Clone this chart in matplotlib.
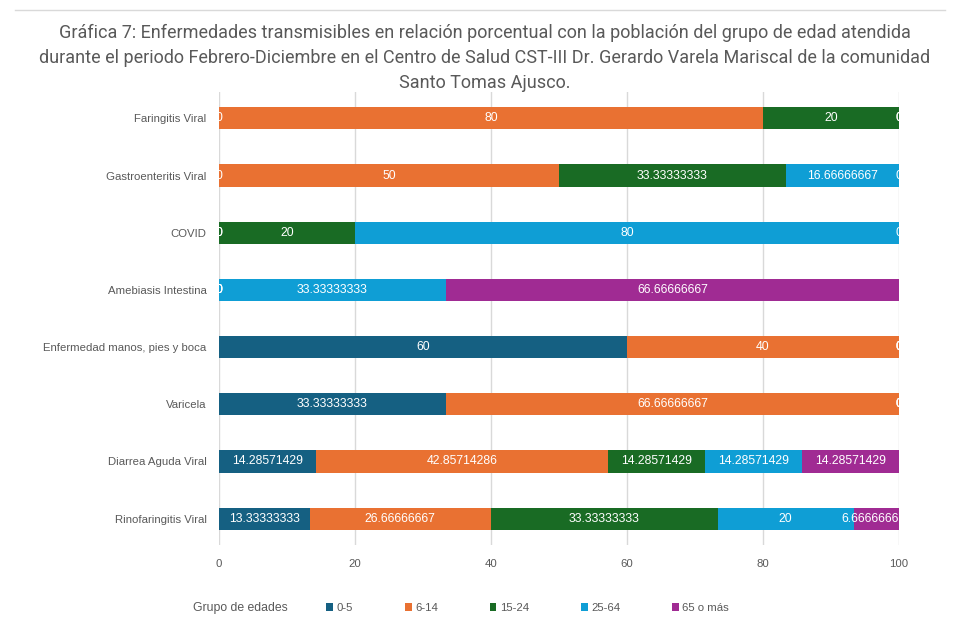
import numpy as np
import matplotlib.pyplot as plt
from matplotlib.patches import Patch
from matplotlib.lines import Line2D

# Datos (porcentaje por grupo de edad)
categorias = [
    "Faringitis Viral", "Gastroenteritis Viral", "COVID", "Amebiasis Intestina",
    "Enfermedad manos, pies y boca", "Varicela", "Diarrea Aguda Viral",
    "Rinofaringitis Viral",
]
grupos = ["0-5", "6-14", "15-24", "25-64", "65 o más"]
g_0_5 = [0, 0, 0, 0, 60, 33.33333333, 14.28571429, 13.33333333]
g_6_14 = [80, 50, 0, 0, 40, 66.66666667, 42.85714286, 26.66666667]
g_15_24 = [20, 33.33333333, 20, 0, 0, 0, 14.28571429, 33.33333333]
g_25_64 = [0, 16.66666667, 80, 33.33333333, 0, 0, 14.28571429, 20]
g_65 = [0, 0, 0, 66.66666667, 0, 0, 14.28571429, 6.666666667]
colores = ["#156082", "#E97132", "#196B24", "#0F9ED5", "#A02B93"]

series = [g_0_5, g_6_14, g_15_24, g_25_64, g_65]
gris = "#595959"

plt.rcParams['font.family'] = ['Liberation Sans', 'DejaVu Sans']

fig = plt.figure(figsize=(9.58, 6.42), dpi=100)
ax = fig.add_axes([219 / 958, 1 - 545 / 642, 680 / 958, 453 / 642])

# orden de arriba hacia abajo
y = np.arange(len(categorias))[::-1]
izq = np.zeros(len(categorias))
for vals, col, nombre in zip(series, colores, grupos):
    vals = np.array(vals, dtype=float)
    ax.barh(y, vals, left=izq, height=0.39, color=col, label=nombre, zorder=2)
    for yi, l, v in zip(y, izq, vals):
        txt = "{:.10g}".format(v)
        ax.text(l + v / 2, yi, txt, ha="center", va="center", color="white",
                fontsize=8.8, clip_on=True, zorder=3)
    izq += vals

ax.set_xlim(0, 100)
ax.set_ylim(-0.46, len(categorias) - 1 + 0.46)
ax.set_xticks(np.arange(0, 101, 20))
ax.set_yticks(y)
ax.set_yticklabels(categorias)
ax.grid(axis="x", color="#d9d9d9", linewidth=1, zorder=0)
for s in ax.spines.values():
    s.set_visible(False)
ax.tick_params(axis="both", length=0, colors=gris, labelsize=8.2)
ax.tick_params(axis="x", pad=10)
ax.tick_params(axis="y", pad=9)

titulo = ("Gráfica 7: Enfermedades transmisibles en relación porcentual con la población del grupo de edad atendida\n"
          "durante el periodo Febrero-Diciembre en el Centro de Salud CST-III Dr. Gerardo Varela Mariscal de la comunidad\n"
          "Santo Tomas Ajusco.")
fig.text(485 / 958, 1 - 24 / 642, titulo, ha="center", va="top", color=gris,
         fontsize=13, linespacing=1.5, family=["Roboto", "DejaVu Sans"])

# linea superior del marco
fig.add_artist(Line2D([15 / 958, 945 / 958], [1 - 10 / 642, 1 - 10 / 642],
                      color="#d9d9d9", linewidth=1))

# leyenda
fig.text(193 / 958, 1 - 608 / 642, "Grupo de edades", ha="left", va="center",
         color=gris, fontsize=8.8)
handles = [Patch(facecolor=c, label=g) for c, g in zip(colores, grupos)]
fig.legend(handles=handles, loc="center left", bbox_to_anchor=(316 / 958, 1 - 608 / 642),
           ncol=5, frameon=False, handlelength=0.6, handleheight=0.6, handletextpad=0.3,
           columnspacing=4.55, fontsize=8.2, labelcolor=gris)

fig.savefig("out.png", dpi=100)
